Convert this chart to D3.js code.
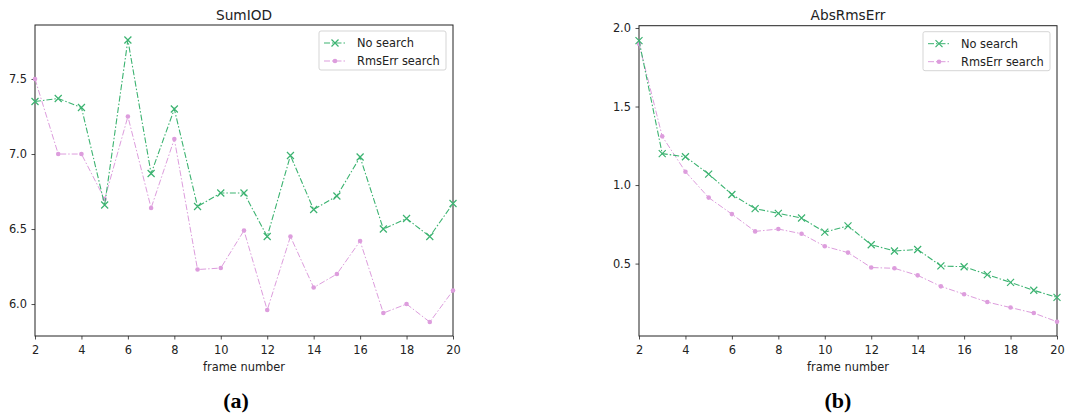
<!DOCTYPE html>
<html>
<head>
<meta charset="utf-8">
<script src="https://cdn.jsdelivr.net/npm/d3@7"></script>
<style>
  html, body { margin: 0; padding: 0; background: #fff; }
  svg { display: block; }
  text { font-family: "DejaVu Sans", sans-serif; fill: #222; }
</style>
</head>
<body>
<div id="chart"></div>
<script>
// ---- data ----
const frames = [2, 3, 4, 5, 6, 7, 8, 9, 10, 11, 12, 13, 14, 15, 16, 17, 18, 19, 20];
const sumIodNoSearch = [7.35, 7.37, 7.31, 6.66, 7.76, 6.87, 7.30, 6.65, 6.74, 6.74, 6.45, 6.99, 6.63, 6.72, 6.98, 6.50, 6.57, 6.45, 6.67];
const sumIodRmsErr   = [7.50, 7.00, 7.00, 6.70, 7.25, 6.64, 7.10, 6.23, 6.24, 6.49, 5.96, 6.45, 6.11, 6.20, 6.42, 5.94, 6.00, 5.88, 6.09];
const absRmsNoSearch = [1.92, 1.20, 1.18, 1.07, 0.94, 0.85, 0.82, 0.79, 0.70, 0.74, 0.62, 0.58, 0.59, 0.485, 0.48, 0.43, 0.38, 0.33, 0.285];
const absRmsRmsErr   = [1.90, 1.31, 1.085, 0.92, 0.815, 0.705, 0.72, 0.69, 0.61, 0.57, 0.475, 0.47, 0.425, 0.355, 0.305, 0.255, 0.22, 0.185, 0.13];
const xTicks = [2, 4, 6, 8, 10, 12, 14, 16, 18, 20];
const sumIodTicks = [6.0, 6.5, 7.0, 7.5];
const absRmsTicks = [0.5, 1.0, 1.5, 2.0];
const seriesNames = ["No search", "RmsErr search"];

const W = 1067, H = 418;
const green = "#3cb371";
const pink = "#dd9ddd";
const fs = "11.4px";

const svg = d3.select("#chart").append("svg")
  .attr("width", W)
  .attr("height", H);

function drawPanel(opts) {
  const { left, right, top, bottom, yDomain, yTicks, title, a, b, tag } = opts;

  const x = d3.scaleLinear().domain([2, 20]).range([left, right]);
  const y = d3.scaleLinear().domain(yDomain).range([bottom, top]);

  const g = svg.append("g");

  // axes
  g.append("g")
    .attr("transform", `translate(0,${bottom})`)
    .call(d3.axisBottom(x).tickValues(xTicks).tickFormat(d3.format("d")).tickSize(3.5).tickPadding(6))
    .call(s => s.select(".domain").remove())
    .call(s => s.selectAll("text").style("font-size", fs).attr("fill", "#222"))
    .call(s => s.selectAll("line").attr("stroke", "#222").attr("stroke-width", 0.8));

  g.append("g")
    .attr("transform", `translate(${left},0)`)
    .call(d3.axisLeft(y).tickValues(yTicks).tickFormat(d3.format(".1f")).tickSize(3.5).tickPadding(4.5))
    .call(s => s.select(".domain").remove())
    .call(s => s.selectAll("text").style("font-size", fs).attr("fill", "#222"))
    .call(s => s.selectAll("line").attr("stroke", "#222").attr("stroke-width", 0.8));

  // frame
  g.append("rect")
    .attr("x", left).attr("y", top)
    .attr("width", right - left).attr("height", bottom - top)
    .attr("fill", "none")
    .attr("stroke", "#222")
    .attr("stroke-width", 1);

  const clipId = "clip-" + tag;
  svg.append("clipPath").attr("id", clipId)
    .append("rect")
    .attr("x", left - 6).attr("y", top)
    .attr("width", right - left + 12).attr("height", bottom - top);

  const plot = g.append("g").attr("clip-path", `url(#${clipId})`);

  const line = d3.line()
    .x((d, i) => x(frames[i]))
    .y(d => y(d));

  // pink series (behind)
  plot.append("path")
    .datum(b)
    .attr("d", line)
    .attr("fill", "none")
    .attr("stroke", pink)
    .attr("stroke-width", 1)
    .attr("stroke-dasharray", "6,2,1.5,2");

  plot.selectAll(".dot")
    .data(b)
    .enter()
    .append("circle")
    .attr("cx", (d, i) => x(frames[i]))
    .attr("cy", d => y(d))
    .attr("r", 2.3)
    .attr("fill", pink);

  // green series
  plot.append("path")
    .datum(a)
    .attr("d", line)
    .attr("fill", "none")
    .attr("stroke", green)
    .attr("stroke-width", 1.1)
    .attr("stroke-dasharray", "6,2,1.5,2");

  const xs = 3.5;
  plot.selectAll(".cross")
    .data(a)
    .enter()
    .append("path")
    .attr("d", (d, i) => {
      const cx = x(frames[i]), cy = y(d);
      return `M${cx - xs},${cy - xs}L${cx + xs},${cy + xs}M${cx - xs},${cy + xs}L${cx + xs},${cy - xs}`;
    })
    .attr("stroke", green)
    .attr("stroke-width", 1.2)
    .attr("fill", "none");

  // title
  g.append("text")
    .attr("x", (left + right) / 2)
    .attr("y", 20)
    .attr("text-anchor", "middle")
    .style("font-size", "13.7px")
    .text(title);

  // x label
  g.append("text")
    .attr("x", (left + right) / 2)
    .attr("y", 371)
    .attr("text-anchor", "middle")
    .style("font-size", fs)
    .text("frame number");

  // legend
  const lgW = 127, lgH = 39;
  const lgX = right - 7 - lgW, lgY = top + 6;
  const lg = g.append("g").attr("transform", `translate(${lgX},${lgY})`);
  lg.append("rect")
    .attr("width", lgW).attr("height", lgH)
    .attr("rx", 2)
    .attr("fill", "#fff")
    .attr("fill-opacity", 0.8)
    .attr("stroke", "#d5d5d5")
    .attr("stroke-width", 1);

  [green, pink].forEach((c, i) => {
    const ly = 12 + i * 18;
    lg.append("line")
      .attr("x1", 5).attr("x2", 27)
      .attr("y1", ly).attr("y2", ly)
      .attr("stroke", c)
      .attr("stroke-width", 1)
      .attr("stroke-dasharray", "6,2,1.5,2");
    if (i === 0) {
      lg.append("path")
        .attr("d", `M${16 - xs},${ly - xs}L${16 + xs},${ly + xs}M${16 - xs},${ly + xs}L${16 + xs},${ly - xs}`)
        .attr("stroke", c).attr("stroke-width", 1.2);
    } else {
      lg.append("circle").attr("cx", 16).attr("cy", ly).attr("r", 2.3).attr("fill", c);
    }
    lg.append("text")
      .attr("x", 38)
      .attr("y", ly)
      .attr("dy", "0.35em")
      .style("font-size", fs)
      .text(seriesNames[i]);
  });
}

drawPanel({
  tag: "a",
  left: 35, right: 453, top: 25, bottom: 336,
  yDomain: [5.787, 7.86],
  yTicks: sumIodTicks,
  title: "SumIOD",
  a: sumIodNoSearch,
  b: sumIodRmsErr
});

drawPanel({
  tag: "b",
  left: 639, right: 1057, top: 25.7, bottom: 336,
  yDomain: [0.039, 2.0146],
  yTicks: absRmsTicks,
  title: "AbsRmsErr",
  a: absRmsNoSearch,
  b: absRmsRmsErr
});

// panel tags
[["(a)", 236], ["(b)", 838]].forEach(([t, cx]) => {
  svg.append("text")
    .attr("x", cx)
    .attr("y", 408)
    .attr("text-anchor", "middle")
    .style("font-family", "'Liberation Serif', 'DejaVu Serif', serif")
    .style("font-weight", "bold")
    .style("font-size", "22px")
    .style("fill", "#000")
    .text(t);
});
</script>
</body>
</html>
